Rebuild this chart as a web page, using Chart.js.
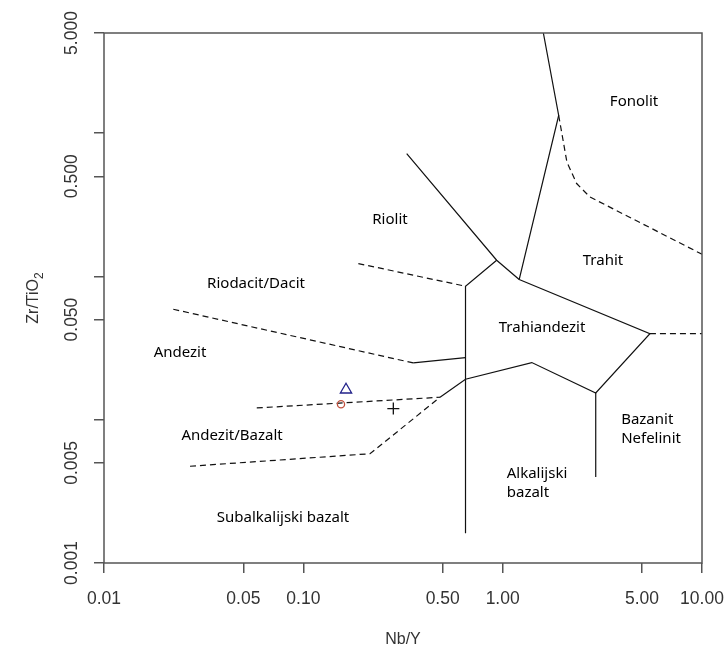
<!DOCTYPE html>
<html>
<head>
<meta charset="utf-8">
<script src="https://cdn.jsdelivr.net/npm/chart.js@4.4.0/dist/chart.umd.min.js"></script>
<style>
body { margin: 0; background: #fff; }
#wrap { width: 727px; height: 653px; }
</style>
</head>
<body>
<div id="wrap"><canvas id="diagram"></canvas></div>
<script>
// axis ticks
var xTicks = [0.01, 0.05, 0.1, 0.5, 1, 5, 10];
var yTicks = [0.001, 0.005, 0.01, 0.05, 0.1, 0.5, 1, 5];
var yLabelTicks = [0.001, 0.005, 0.05, 0.5, 5];

// field boundaries, [Nb/Y, Zr/TiO2]
// solid
var fonolitRiolit = [[1.60, 5], [1.91, 1.33], [1.21, 0.0951]];
var riolitTrahiandezit = [[0.330, 0.720], [0.933, 0.1297], [1.21, 0.0951]];
var riodacitEdge = [[0.933, 0.1297], [0.651, 0.0854], [0.651, 0.00161]];
var trahiandezitBase = [[1.21, 0.0951], [5.48, 0.0399], [2.93, 0.01537], [1.40, 0.02506], [0.651, 0.01916], [0.485, 0.01435]];
var bazanitEdge = [[2.93, 0.01537], [2.93, 0.00399]];
var andezitTop = [[0.356, 0.0249], [0.651, 0.02715]];
// dashed
var fonolitTrahit = [[1.91, 1.33], [2.10, 0.629], [2.35, 0.445], [2.74, 0.3585], [10, 0.1428]];
var riodacitTop = [[0.1888, 0.1230], [0.651, 0.0854]];
var bazanitTop = [[5.48, 0.0399], [10, 0.0399]];
var andezitDacit = [[0.02226, 0.0590], [0.356, 0.0249]];
var andezitBazalt = [[0.0584, 0.01208], [0.485, 0.01435]];
var subalkalijskiTop = [[0.0270, 0.004735], [0.216, 0.005788], [0.485, 0.01435]];

// samples
var sampleTriangle = [[0.1637, 0.01619]];
var sampleCircle = [[0.1545, 0.01282]];
var samplePlus = [[0.2828, 0.01197]];

// field names and where they sit
var fieldNames = ['Fonolit', 'Riolit', 'Trahit', 'Trahiandezit', 'Riodacit/Dacit', 'Andezit',
  'Andezit/Bazalt', 'Bazanit\nNefelinit', 'Alkalijski\nbazalt', 'Subalkalijski bazalt'];
var fieldX = [4.56, 0.272, 3.187, 1.576, 0.0579, 0.02406, 0.0439, 5.55, 1.487, 0.0791];
var fieldY = [1.669, 0.2506, 0.1297, 0.0435, 0.0896, 0.02957, 0.00779, 0.00858, 0.0036, 0.002086];

function pts(arr) {
  return arr.map(function (p) { return { x: p[0], y: p[1] }; });
}

function boundary(arr, dashed) {
  return {
    data: pts(arr),
    showLine: true,
    borderColor: '#111',
    borderWidth: 1.2,
    borderDash: dashed ? [6, 4] : [],
    pointRadius: 0,
    fill: false
  };
}

var axisFont = '"Liberation Sans", Arial, sans-serif';
var fieldFont = '"Noto Sans", "Open Sans", sans-serif';

var overlay = {
  id: 'overlay',
  afterDraw: function (chart) {
    var ctx = chart.ctx;
    var a = chart.chartArea;
    var xs = chart.scales.x, ys = chart.scales.y;
    ctx.save();

    // box
    ctx.strokeStyle = '#555';
    ctx.lineWidth = 1.5;
    ctx.strokeRect(a.left, a.top, a.right - a.left, a.bottom - a.top);

    // y tick labels, parallel to axis
    ctx.fillStyle = '#333';
    ctx.font = '17.5px ' + axisFont;
    ctx.textAlign = 'center';
    ctx.textBaseline = 'middle';
    yLabelTicks.forEach(function (v) {
      ctx.save();
      ctx.translate(a.left - 32, ys.getPixelForValue(v));
      ctx.rotate(-Math.PI / 2);
      ctx.fillText(v.toFixed(3), 0, 0);
      ctx.restore();
    });

    // axis titles
    ctx.font = '16px ' + axisFont;
    ctx.fillText('Nb/Y', (a.left + a.right) / 2, 640);
    ctx.save();
    ctx.translate(34, (a.top + a.bottom) / 2);
    ctx.rotate(-Math.PI / 2);
    var main = 'Zr/TiO';
    ctx.font = '16px ' + axisFont;
    var w1 = ctx.measureText(main).width;
    ctx.font = '12px ' + axisFont;
    var w2 = ctx.measureText('2').width;
    var x0 = -(w1 + w2) / 2;
    ctx.textAlign = 'left';
    ctx.font = '16px ' + axisFont;
    ctx.fillText(main, x0, 0);
    ctx.font = '12px ' + axisFont;
    ctx.fillText('2', x0 + w1, 6);
    ctx.restore();

    // field names
    ctx.fillStyle = '#000';
    ctx.font = '15px ' + fieldFont;
    ctx.textBaseline = 'middle';
    fieldNames.forEach(function (name, i) {
      var cx = xs.getPixelForValue(fieldX[i]);
      var cy = ys.getPixelForValue(fieldY[i]);
      var lines = name.split('\n');
      if (lines.length === 1) {
        ctx.textAlign = 'center';
        ctx.fillText(name, cx, cy);
      } else {
        var wMax = Math.max.apply(null, lines.map(function (l) { return ctx.measureText(l).width; }));
        ctx.textAlign = 'left';
        lines.forEach(function (l, j) {
          ctx.fillText(l, cx - wMax / 2, cy + (j - (lines.length - 1) / 2) * 18.5);
        });
      }
    });
    ctx.restore();
  }
};

new Chart(document.getElementById('diagram'), {
  type: 'scatter',
  data: {
    datasets: [
      {
        data: pts(sampleTriangle), pointStyle: 'triangle', pointRadius: 6.5,
        borderColor: '#22228a', backgroundColor: 'rgba(0,0,0,0)', borderWidth: 1.3
      },
      {
        data: pts(sampleCircle), pointStyle: 'circle', pointRadius: 3.6,
        borderColor: '#c0503c', backgroundColor: 'rgba(0,0,0,0)', borderWidth: 1.3
      },
      {
        data: pts(samplePlus), pointStyle: 'cross', pointRadius: 6,
        borderColor: '#111', borderWidth: 1.3
      },
      boundary(fonolitRiolit, false),
      boundary(riolitTrahiandezit, false),
      boundary(riodacitEdge, false),
      boundary(trahiandezitBase, false),
      boundary(bazanitEdge, false),
      boundary(andezitTop, false),
      boundary(fonolitTrahit, true),
      boundary(riodacitTop, true),
      boundary(bazanitTop, true),
      boundary(andezitDacit, true),
      boundary(andezitBazalt, true),
      boundary(subalkalijskiTop, true)
    ]
  },
  options: {
    responsive: true,
    maintainAspectRatio: false,
    animation: false,
    layout: { padding: { top: 33, right: 25, left: 0, bottom: 0 } },
    plugins: { legend: { display: false }, tooltip: { enabled: false } },
    scales: {
      x: {
        type: 'logarithmic',
        min: 0.01,
        max: 10,
        afterBuildTicks: function (s) { s.ticks = xTicks.map(function (v) { return { value: v }; }); },
        afterFit: function (s) {
          s.height = 90;
          s.paddingLeft = 0;
          s.paddingRight = 0;
        },
        ticks: {
          callback: function (v) { return Number(v).toFixed(2); },
          font: { size: 17.5, family: axisFont },
          color: '#333',
          padding: 16,
          maxRotation: 0,
          autoSkip: false
        },
        grid: { drawOnChartArea: false, tickLength: 10, color: '#555', lineWidth: 1.5 },
        border: { display: false }
      },
      y: {
        type: 'logarithmic',
        min: 0.001,
        max: 5,
        afterBuildTicks: function (s) { s.ticks = yTicks.map(function (v) { return { value: v }; }); },
        afterFit: function (s) { s.width = 104; },
        ticks: { display: false },
        grid: { drawOnChartArea: false, tickLength: 10, color: '#555', lineWidth: 1.5 },
        border: { display: false }
      }
    }
  },
  plugins: [overlay]
});
</script>
</body>
</html>
